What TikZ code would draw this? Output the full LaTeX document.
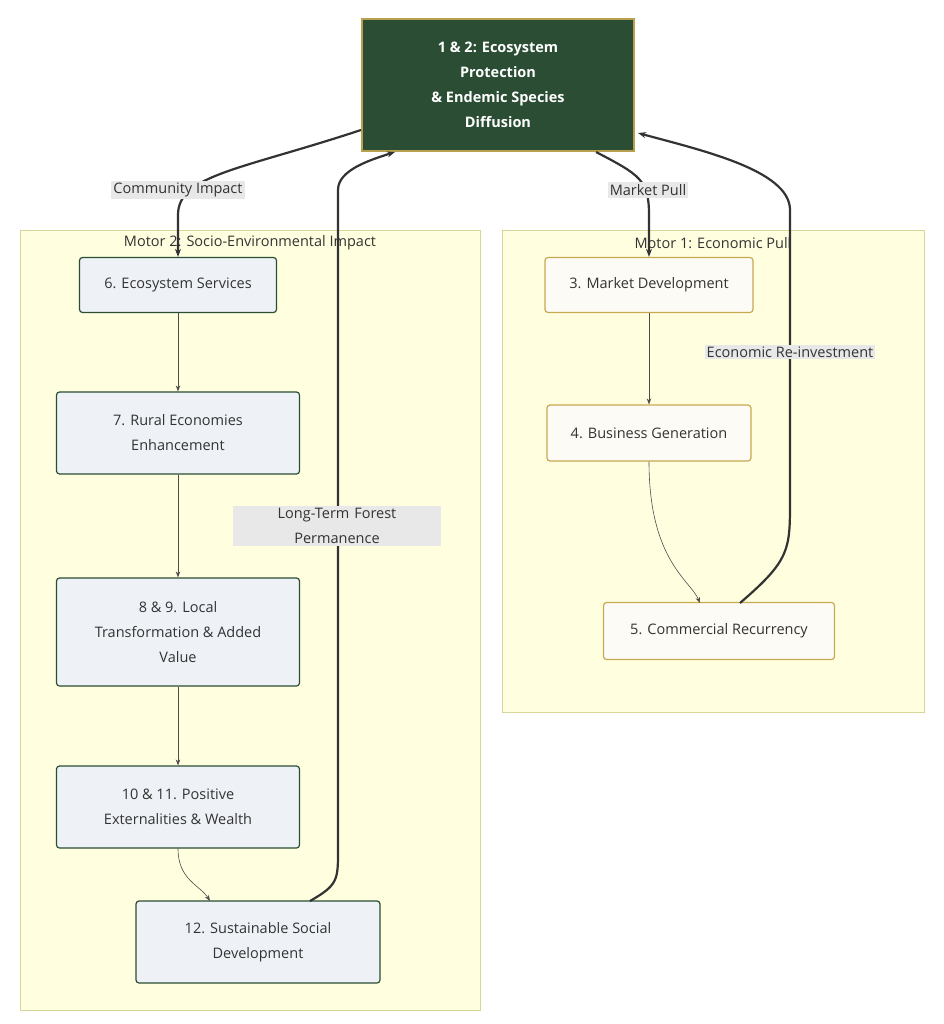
\documentclass[tikz,border=0pt]{standalone}
\usepackage{fontspec}
\setmainfont{Open Sans}
\usetikzlibrary{arrows.meta}
\definecolor{topgreen}{HTML}{2A4D33}
\definecolor{topgold}{HTML}{B8A050}
\definecolor{clfill}{HTML}{FFFFE0}
\definecolor{clline}{HTML}{D6D69A}
\definecolor{lfill}{HTML}{EEF2F7}
\definecolor{rfill}{HTML}{FDFBF5}
\definecolor{rline}{HTML}{C8A850}
\definecolor{lblbg}{HTML}{E8E8E8}
\tikzset{
  lnode/.style={draw=topgreen,fill=lfill,line width=1.2pt,rounded corners=3pt,align=center,font=\fontsize{14.5}{25}\selectfont,text=black!80},
  rnode/.style={draw=rline,fill=rfill,line width=1.2pt,rounded corners=3pt,align=center,font=\fontsize{14.5}{25}\selectfont,text=black!80},
  elbl/.style={fill=lblbg,inner sep=2pt,align=center,font=\fontsize{14.5}{25}\selectfont,text=black!80},
  thin/.style={draw=black!70,line width=0.6pt,-{Stealth[length=6pt]}},
  thick/.style={draw=black!80,line width=2.2pt,-{Stealth[length=8pt]}},
}
\begin{document}
\begin{tikzpicture}[x=1pt,y=-1pt]
\useasboundingbox (0,0) rectangle (943,1024);

% clusters
\draw [fill=clfill,draw=clline] (20,230) rectangle (480,1010);
\draw [fill=clfill,draw=clline] (502,230) rectangle (924,712);
\node [font=\fontsize{14.5}{17}\selectfont,text=black!80] (t2) at (250,243) {Motor 2: Socio-Environmental Impact};
\node [font=\fontsize{14.5}{17}\selectfont,text=black!80] (t1) at (713,243) {Motor 1: Economic Pull};

% top node
\node [draw=topgold,fill=topgreen,line width=2.5pt,minimum width=272pt,minimum height=132pt,align=center,text=white,font=\bfseries\fontsize{14.5}{25}\selectfont] (eco) at (498,85) {1 \& 2: Ecosystem\\Protection\\\& Endemic Species\\Diffusion};

% left nodes
\node [lnode,minimum width=197pt,minimum height=55pt] (n6) at (178,285) {6. Ecosystem Services};
\node [lnode,minimum width=243pt,minimum height=82pt] (n7) at (178,433) {7. Rural Economies\\Enhancement};
\node [lnode,minimum width=243pt,minimum height=108pt] (n8) at (178,632) {8 \& 9. Local\\Transformation \& Added\\Value};
\node [lnode,minimum width=243pt,minimum height=82pt] (n10) at (178,807) {10 \& 11. Positive\\Externalities \& Wealth};
\node [lnode,minimum width=244pt,minimum height=82pt] (n12) at (258,942) {12. Sustainable Social\\Development};

% right nodes
\node [rnode,minimum width=208pt,minimum height=55pt] (n3) at (649,285) {3. Market Development};
\node [rnode,minimum width=204pt,minimum height=56pt] (n4) at (649,433) {4. Business Generation};
\node [rnode,minimum width=231pt,minimum height=57pt] (n5) at (719,631) {5. Commercial Recurrency};

% thin edges
\draw [thin] (n6) -- (n7);
\draw [thin] (n7) -- (n8);
\draw [thin] (n8) -- (n10);
\draw [thin] (n10.south) .. controls (178,880) and (200,885) .. (210,901);
\draw [thin] (n3) -- (n4);
\draw [thin] (n4.south) .. controls (649,560) and (690,580) .. (700,603);

% thick edges
\draw [thick] (361,130) .. controls (240,170) and (178,175) .. (178,215) -- (n6.north);
\node [elbl] (lcomm) at (178,190) {Community Impact};
\draw [thick] (310,901) .. controls (338,885) and (338,880) .. (338,850) -- (338,190) .. controls (338,170) and (370,160) .. (395,152);
\node [elbl,text width=204pt] (llong) at (337,526) {Long-Term Forest\\Permanence};
\draw [thick] (596,152) .. controls (640,175) and (649,180) .. (649,215) -- (n3.north);
\node [elbl] (lmkt) at (648,190) {Market Pull};
\draw [thick] (740,603) .. controls (790,560) and (790,550) .. (790,500) -- (790,210) .. controls (790,170) and (700,150) .. (638,133);
\node [elbl] (lreinv) at (790,352) {Economic Re-investment};
\end{tikzpicture}
\end{document}
